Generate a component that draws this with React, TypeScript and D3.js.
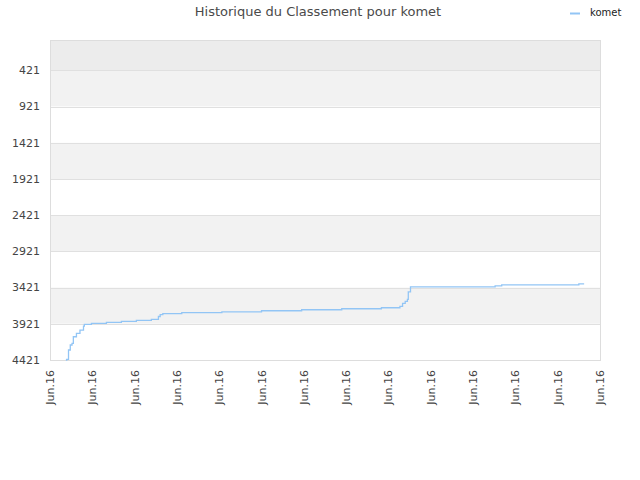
import { useEffect, useRef } from 'react';
import * as d3 from 'd3';

const title = 'Historique du Classement pour komet';
const seriesName = 'komet';

// moments where the rank changes (held until the next one)
const times = [
  '2016-06-01T18:00', '2016-06-01T19:00', '2016-06-01T21:00', '2016-06-01T23:00',
  '2016-06-02T01:00', '2016-06-02T02:30', '2016-06-02T06:00', '2016-06-02T10:00',
  '2016-06-02T14:00', '2016-06-02T15:00', '2016-06-02T23:00', '2016-06-03T16:00',
  '2016-06-04T09:00', '2016-06-05T02:00', '2016-06-05T19:00', '2016-06-06T03:00',
  '2016-06-06T05:00', '2016-06-06T08:00', '2016-06-07T05:30', '2016-06-09T03:00',
  '2016-06-11T00:00', '2016-06-12T21:30', '2016-06-14T19:00', '2016-06-16T16:00',
  '2016-06-17T13:00', '2016-06-17T16:00', '2016-06-17T19:00', '2016-06-17T21:30',
  '2016-06-17T22:30', '2016-06-18T01:00', '2016-06-22T01:00', '2016-06-22T08:30',
  '2016-06-26T00:00', '2016-06-26T06:00',
];
const ranks = [
  4421, 4411, 4283, 4214,
  4191, 4100, 4053, 4007,
  3952, 3929, 3915, 3901,
  3887, 3873, 3859, 3820,
  3795, 3780, 3768, 3755,
  3741, 3727, 3713, 3699,
  3680, 3639, 3610, 3584,
  3479, 3410, 3396, 3382,
  3369, 3369,
];

const yTicks = [421, 921, 1421, 1921, 2421, 2921, 3421, 3921, 4421];
const xStart = '2016-06-01T00:00';
const xEnd = '2016-06-27T00:00';

const W = 640;
const H = 480;
const margin = { top: 40, right: 40, bottom: 120, left: 50 };

export default function App() {
  const ref = useRef<SVGSVGElement>(null);

  useEffect(() => {
    if (!ref.current) return;
    const svg = d3.select(ref.current);
    svg.selectAll('*').remove();

    const parse = d3.timeParse('%Y-%m-%dT%H:%M');
    const data = times.map((t, i) => ({ date: parse(t) as Date, rank: ranks[i] }));

    const x = d3.scaleTime()
      .domain([parse(xStart) as Date, parse(xEnd) as Date])
      .range([margin.left, W - margin.right]);
    const y = d3.scaleLinear()
      .domain([1, 4421])
      .range([margin.top, H - margin.bottom]);

    const font = 'DejaVu Sans, sans-serif';

    // alternating bands
    const edges = [1, ...yTicks];
    for (let i = 0; i < edges.length - 1; i++) {
      const fill = i === 0 ? '#ececec' : (i % 2 === 1 ? '#f2f2f2' : '#ffffff');
      svg.append('rect')
        .attr('x', margin.left)
        .attr('y', y(edges[i]))
        .attr('width', W - margin.left - margin.right)
        .attr('height', y(edges[i + 1]) - y(edges[i]))
        .attr('fill', fill);
    }

    // grid lines
    svg.append('g')
      .selectAll('line')
      .data(yTicks)
      .join('line')
      .attr('x1', margin.left)
      .attr('x2', W - margin.right)
      .attr('y1', d => Math.round(y(d)) + 0.5)
      .attr('y2', d => Math.round(y(d)) + 0.5)
      .attr('stroke', '#e0e0e0');

    // plot frame
    svg.append('rect')
      .attr('x', margin.left + 0.5)
      .attr('y', margin.top + 0.5)
      .attr('width', W - margin.left - margin.right)
      .attr('height', H - margin.top - margin.bottom)
      .attr('fill', 'none')
      .attr('stroke', '#dddddd');

    // y labels
    svg.append('g')
      .selectAll('text')
      .data(yTicks)
      .join('text')
      .attr('x', 40)
      .attr('y', d => y(d))
      .attr('dy', '0.35em')
      .attr('text-anchor', 'end')
      .attr('font-family', font)
      .attr('font-size', 11)
      .attr('fill', '#444')
      .text(d => String(d));

    // x labels
    const xTicks = x.ticks(d3.timeDay.every(2) as d3.TimeInterval);
    svg.append('g')
      .selectAll('text')
      .data(xTicks)
      .join('text')
      .attr('transform', d => `translate(${x(d) + 4},${H - margin.bottom + 10}) rotate(-90)`)
      .attr('text-anchor', 'end')
      .attr('font-family', font)
      .attr('font-size', 11)
      .attr('fill', '#444')
      .text(d => 'Jun.' + d3.timeFormat('%y')(d));

    // line
    const line = d3.line<{ date: Date; rank: number }>()
      .x(d => x(d.date))
      .y(d => y(d.rank))
      .curve(d3.curveStepAfter);
    svg.append('path')
      .datum(data)
      .attr('d', line)
      .attr('fill', 'none')
      .attr('stroke', '#92c5f5')
      .attr('stroke-width', 1.3);

    // title
    svg.append('text')
      .attr('x', 318)
      .attr('y', 16)
      .attr('text-anchor', 'middle')
      .attr('font-family', font)
      .attr('font-size', 13)
      .attr('fill', '#4a4a4a')
      .text(title);

    // legend
    svg.append('line')
      .attr('x1', 570).attr('x2', 580)
      .attr('y1', 13.5).attr('y2', 13.5)
      .attr('stroke', '#92c5f5')
      .attr('stroke-width', 2);
    svg.append('text')
      .attr('x', 590)
      .attr('y', 16)
      .attr('font-family', font)
      .attr('font-size', 10)
      .attr('fill', '#222')
      .text(seriesName);
  }, []);

  return (
    <svg
      ref={ref}
      width={W}
      height={H}
      style={{ position: 'absolute', left: 0, top: 0, background: '#fff' }}
    />
  );
}
